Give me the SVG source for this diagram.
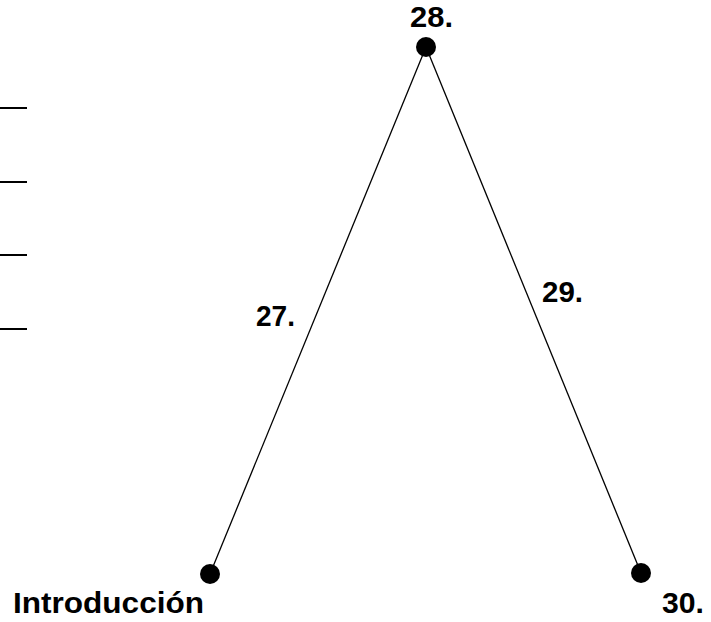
<svg xmlns="http://www.w3.org/2000/svg" width="711" height="622" viewBox="0 0 711 622">
<style>
.lbl{font-family:"Liberation Sans",Arial,sans-serif;font-weight:bold;font-size:29px;fill:#000}
.edge{stroke:#000;stroke-width:1.3;fill:none}
.dash{stroke:#000;stroke-width:2;fill:none}
.dot{fill:#000}
</style>
<rect width="711" height="622" fill="#fff"/>
<g id="dashes">
<line class="dash" x1="0" y1="108" x2="27" y2="108"/>
<line class="dash" x1="0" y1="182" x2="27" y2="182"/>
<line class="dash" x1="0" y1="255" x2="27" y2="255"/>
<line class="dash" x1="0" y1="329" x2="27" y2="329"/>
</g>
<g id="connectors">
<line class="edge" x1="210" y1="574" x2="426" y2="47"/>
<line class="edge" x1="426" y1="47" x2="641" y2="573"/>
<text class="lbl" x="256" y="326" textLength="39" lengthAdjust="spacingAndGlyphs">27.</text>
<text class="lbl" x="542" y="302" textLength="41" lengthAdjust="spacingAndGlyphs">29.</text>
</g>
<g id="n28">
<circle class="dot" cx="426" cy="47" r="10"/>
<text class="lbl" x="410" y="27" textLength="43" lengthAdjust="spacingAndGlyphs">28.</text>
</g>
<g id="nIntro">
<circle class="dot" cx="210" cy="574" r="10"/>
<text class="lbl" x="13" y="613" textLength="191" lengthAdjust="spacingAndGlyphs">Introducción</text>
</g>
<g id="n30">
<circle class="dot" cx="641" cy="573" r="10"/>
<text class="lbl" x="662" y="613" textLength="42" lengthAdjust="spacingAndGlyphs">30.</text>
</g>
</svg>
